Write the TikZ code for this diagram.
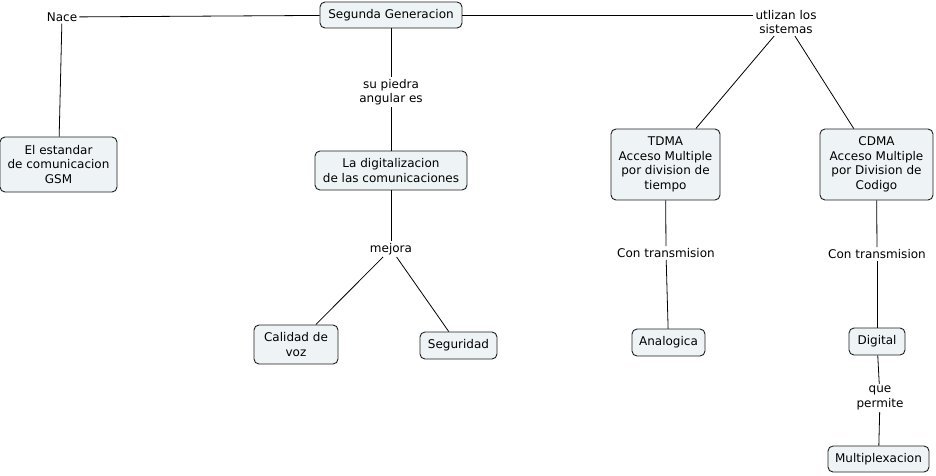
\documentclass[tikz,border=0pt]{standalone}
\usepackage{fontspec}
\setmainfont{DejaVu Sans}
\definecolor{boxfill}{RGB}{238,244,246}
\definecolor{boxline}{RGB}{30,30,30}
\begin{document}
\begin{tikzpicture}[x=1pt,y=-1pt,
  every node/.style={font=\fontsize{12}{14.5}\selectfont, align=center},
  concept/.style={draw=boxline, fill=boxfill, rounded corners=5pt, line width=0.9pt, inner sep=1pt},
  lbl/.style={inner sep=2pt, fill=white},
  link/.style={line width=0.8pt, black}]
\useasboundingbox (0,0) rectangle (936,475);
% concepts
\node[concept, minimum width=142pt, minimum height=26pt] (seg) at (391,15) {Segunda Generacion};
\node[concept, minimum width=117pt, minimum height=55pt] (gsm) at (58.5,164.5) {El estandar\\de comunicacion\\GSM};
\node[concept, minimum width=152pt, minimum height=39pt] (dig) at (391,170.5) {La digitalizacion\\de las comunicaciones};
\node[concept, minimum width=84pt, minimum height=39pt] (cal) at (296,344.5) {Calidad de\\voz};
\node[concept, minimum width=77pt, minimum height=27pt] (segu) at (458.5,345.5) {Seguridad};
\node[concept, minimum width=109pt, minimum height=71pt] (tdma) at (665.5,164.5) {TDMA\\Acceso Multiple\\por division de\\tiempo};
\node[concept, minimum width=113pt, minimum height=71pt] (cdma) at (876.5,164.5) {CDMA\\Acceso Multiple\\por Division de\\Codigo};
\node[concept, minimum width=73pt, minimum height=27pt] (ana) at (668.5,342.5) {Analogica};
\node[concept, minimum width=56pt, minimum height=27pt] (digi) at (877,341.5) {Digital};
\node[concept, minimum width=101pt, minimum height=26pt] (mux) at (878.5,459) {Multiplexacion};
% linking phrases
\node[lbl] (nace) at (62,17) {Nace};
\node[lbl] (piedra) at (391,92) {su piedra\\angular es};
\node[lbl] (mejora) at (391,249) {mejora};
\node[lbl] (utl) at (786,22) {utlizan los\\sistemas};
\node[lbl] (con1) at (666,253) {Con transmision};
\node[lbl] (con2) at (877,254) {Con transmision};
\node[lbl] (que) at (880,398) {que\\permite};
% connectors
\draw[link] (seg) -- (nace);
\draw[link] (nace) -- (gsm);
\draw[link] (seg) -- (piedra);
\draw[link] (piedra) -- (dig);
\draw[link] (dig) -- (mejora);
\draw[link] (mejora) -- (cal);
\draw[link] (mejora) -- (segu);
\draw[link] (seg.east) -- (utl.west |- seg.east);
\draw[link] (utl) -- (tdma);
\draw[link] (utl) -- (cdma);
\draw[link] (tdma) -- (con1);
\draw[link] (con1) -- (ana);
\draw[link] (cdma) -- (con2);
\draw[link] (con2) -- (digi);
\draw[link] (digi) -- (que);
\draw[link] (que) -- (mux);
\end{tikzpicture}
\end{document}
